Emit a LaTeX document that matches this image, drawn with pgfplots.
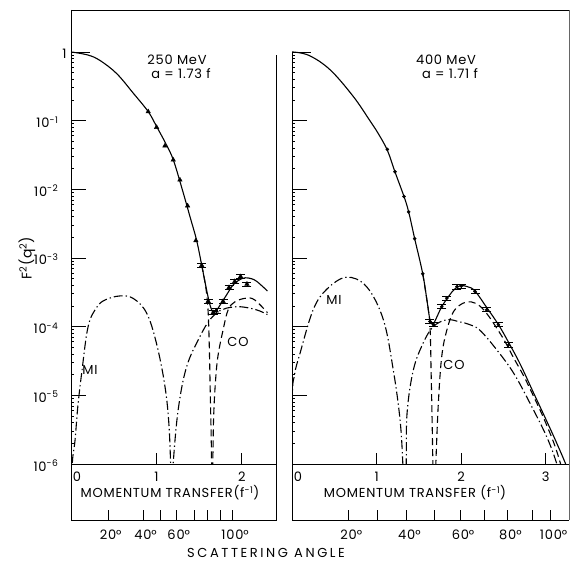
\documentclass[border=0pt]{standalone}
\usepackage{fontspec}
\setmainfont{Poppins}[LetterSpace=6]
\usepackage{pgfplots}
\pgfplotsset{compat=1.18}
\newcommand\lbl{\fontsize{13bp}{15bp}\selectfont}

\pgfplotsset{
  curve/.style={black, line width=1.1bp, smooth, tension=0.6},
  dsh/.style={curve, dash pattern=on 7bp off 4bp},
  dshdot/.style={curve, dash pattern=on 9bp off 3bp on 1.3bp off 3bp},
}

\begin{document}
\begin{tikzpicture}[x=1bp, y=1bp, font=\lbl]
\useasboundingbox (0,0) rectangle (571,563);

% ---------------- 250 MeV ----------------
\begin{axis}[scale only axis, ymode=log, ymin=1e-6, ymax=4.08, height=454bp,
  anchor=south west, xmin=0, at={(71bp,99bp)}, width=205bp, xmax=2.40,
  axis line style={draw=none}, xtick=\empty,
  ytick={1e-6,1e-5,1e-4,1e-3,1e-2,1e-1,1},
  ytick pos=left, tick align=inside, major tick length=15bp,
  ytick style={black, line width=0.8bp},
  tick label style={font=\lbl},
  yticklabels={10\textsuperscript{-6},10\textsuperscript{-5},10\textsuperscript{-4},
    10\textsuperscript{-3},10\textsuperscript{-2},10\textsuperscript{-1},1\hspace*{-8bp}},
  yticklabel style={anchor=east, xshift=-9bp, yshift=-1.5bp}]
% total
\addplot[curve] coordinates {(0,1) (0.2,0.90) (0.34,0.75) (0.534,0.485) (0.73,0.25)
  (0.904,0.135) (1.0,0.083) (1.12,0.0437) (1.2,0.0263) (1.3,0.0102) (1.4,0.00372)
  (1.47,0.00182) (1.53,7.9e-4) (1.58,3.8e-4) (1.626,2.09e-4) (1.664,1.58e-4)};
\addplot[curve] coordinates {(1.664,1.58e-4) (1.70,1.70e-4) (1.743,2.04e-4) (1.82,2.88e-4)
  (1.90,4.07e-4) (2.0,5.0e-4) (2.08,5.1e-4) (2.17,4.6e-4) (2.30,3.3e-4)};
% CO
\addplot[dsh] coordinates {(1.53,7.9e-4) (1.58,3.6e-4) (1.606,1.6e-4) (1.62,4.6e-5)
  (1.632,8.5e-6) (1.642,2.2e-6) (1.65,4e-7)};
\addplot[dsh] coordinates {(1.655,4e-7) (1.662,1.5e-6) (1.67,4.9e-6) (1.69,1.5e-5)
  (1.72,3.7e-5) (1.78,8.9e-5) (1.84,1.76e-4) (1.92,2.3e-4) (2.05,2.6e-4) (2.15,2.45e-4)
  (2.30,1.6e-4)};
% MI
\addplot[dshdot] coordinates {(0.004,2e-7) (0.015,1e-6) (0.047,2.2e-6) (0.08,6.9e-6)
  (0.125,2.1e-5) (0.2,1.0e-4) (0.30,1.9e-4) (0.40,2.45e-4) (0.573,2.8e-4) (0.73,2.57e-4)
  (0.885,1.58e-4) (1.0,5.75e-5) (1.10,1.35e-5) (1.15,3.2e-6) (1.175,4e-7)};
\addplot[dshdot] coordinates {(1.185,4e-7) (1.196,1e-6) (1.255,6.2e-6) (1.353,2.6e-5)
  (1.51,7.2e-5) (1.626,1.26e-4) (1.74,1.7e-4) (1.82,1.86e-4) (1.98,1.95e-4)
  (2.17,1.76e-4) (2.30,1.5e-4)};
% data
\addplot[only marks, black, mark=triangle*, mark size=2.6bp] coordinates {
  (0.904,0.135) (1.002,0.080) (1.099,0.0428) (1.197,0.0268) (1.275,0.0137)
  (1.365,0.00575) (1.462,0.00179)};
\addplot[only marks, black, mark=triangle*, mark size=2.6bp,
  error bars/.cd, y dir=both, y explicit,
  error bar style={line width=0.9bp},
  error mark options={black, rotate=90, mark size=4.5bp, line width=0.9bp}] coordinates {
  (1.53,7.8e-4) +- (0,0.55e-4) (1.606,2.34e-4) +- (0,0.16e-4) (1.665,1.6e-4) +- (0,0.11e-4)
  (1.70,1.7e-4) +- (0,0.12e-4) (1.78,2.34e-4) +- (0,0.16e-4) (1.85,3.72e-4) +- (0,0.26e-4)
  (1.918,4.57e-4) +- (0,0.32e-4) (1.985,5.37e-4) +- (0,0.38e-4) (2.06,4.17e-4) +- (0,0.3e-4)};
\end{axis}

% ---------------- 400 MeV ----------------
\begin{axis}[scale only axis, ymode=log, ymin=1e-6, ymax=4.08, height=454bp,
  anchor=south west, xmin=0, at={(292bp,99bp)}, width=277bp, xmax=3.2742,
  axis line style={draw=none}, xtick=\empty,
  ytick={1e-6,1e-5,1e-4,1e-3,1e-2,1e-1,1},
  ytick pos=left, tick align=inside, major tick length=15bp,
  ytick style={black, line width=0.8bp},
  tick label style={font=\lbl},
  yticklabels={}]
\addplot[curve] coordinates {(0,1) (0.2,0.89) (0.45,0.55) (0.725,0.224) (0.92,0.100)
  (1.02,0.0646) (1.127,0.037) (1.218,0.0178) (1.324,0.00783) (1.379,0.00468) (1.45,0.00191)
  (1.545,5.9e-4) (1.60,2.2e-4) (1.631,1.26e-4) (1.67,1.07e-4)};
\addplot[curve] coordinates {(1.67,1.07e-4) (1.72,1.45e-4) (1.77,1.95e-4) (1.85,2.75e-4)
  (1.92,3.5e-4) (1.99,3.95e-4) (2.08,3.8e-4) (2.163,3.3e-4) (2.30,1.91e-4) (2.44,1.07e-4)
  (2.56,5.9e-5) (2.70,2.8e-5) (2.85,1.12e-5) (3.00,4.5e-6) (3.13,2.0e-6) (3.25,8.9e-7)
  (3.28,6e-7)};
% CO
\addplot[dsh] coordinates {(1.545,5.9e-4) (1.60,2.2e-4) (1.631,1.0e-4) (1.645,2e-5)
  (1.655,5e-6) (1.665,1e-6) (1.672,3e-7)};
\addplot[dsh] coordinates {(1.688,3e-7) (1.70,1e-6) (1.73,7.8e-6) (1.77,3.7e-5)
  (1.83,8.9e-5) (1.91,1.66e-4) (2.02,2.19e-4) (2.12,2.29e-4) (2.22,2.0e-4) (2.32,1.45e-4)
  (2.42,9.5e-5) (2.52,6.0e-5) (2.62,3.5e-5) (2.74,1.9e-5) (2.85,1.0e-5) (2.97,4.8e-6)
  (3.09,2.1e-6) (3.17,1.05e-6) (3.20,7e-7)};
% MI
\addplot[dshdot] coordinates {(0.001,1e-7) (0.003,7.8e-6) (0.03,2e-5) (0.095,4.1e-5)
  (0.25,1.76e-4) (0.41,3.5e-4) (0.646,5.25e-4) (0.883,3.8e-4) (1.08,1.26e-4)
  (1.197,2.34e-5) (1.277,4.4e-6) (1.31,1e-6) (1.32,3e-7)};
\addplot[dshdot] coordinates {(1.34,3e-7) (1.35,1e-6) (1.36,5.5e-6) (1.434,2.34e-5)
  (1.55,5.75e-5) (1.67,1.0e-4) (1.83,1.26e-4) (1.986,1.17e-4) (2.10,1.07e-4)
  (2.22,8.9e-5) (2.42,4.6e-5) (2.62,2.1e-5) (2.81,7.8e-6) (3.01,2.5e-6) (3.13,1e-6)
  (3.16,6e-7)};
% data
\addplot[only marks, black, mark=*, mark size=1.6bp] coordinates {
  (1.127,0.038) (1.218,0.0180) (1.324,0.00783) (1.379,0.00468) (1.45,0.00191)
  (1.545,5.9e-4)};
\addplot[only marks, black, mark=*, mark size=1.6bp,
  error bars/.cd, y dir=both, y explicit,
  error bar style={line width=0.9bp},
  error mark options={black, rotate=90, mark size=4.5bp, line width=0.9bp}] coordinates {
  (1.631,1.19e-4) +- (0,0.08e-4) (1.67,1.07e-4) +- (0,0.07e-4) (1.77,1.95e-4) +- (0,0.14e-4)
  (1.83,2.6e-4) +- (0,0.18e-4) (1.95,3.8e-4) +- (0,0.27e-4) (2.0,3.9e-4) +- (0,0.27e-4)
  (2.163,3.24e-4) +- (0,0.23e-4) (2.30,1.76e-4) +- (0,0.12e-4) (2.44,1.07e-4) +- (0,0.075e-4)
  (2.56,5.4e-5) +- (0,0.4e-5)};
\end{axis}

% momentum-transfer and scattering-angle scales, left panel (x in f^-1)
\begin{scope}[shift={(71bp,0)}, x=85.4167bp, line width=0.8bp]
\foreach \q in {1,2} \draw (\q,99) -- (\q,110);
\node[anchor=base] at (0.07,81) {0};
\node[anchor=base] at (1,81) {1};
\node[anchor=base] at (2,81) {2};
\foreach \q in {0.433,0.842,1.05,1.23,1.44,1.60,1.75,1.89} \draw (\q,43) -- (\q,53);
\node[anchor=base] at (0.433,23) {20\rlap{°}};
\node[anchor=base] at (0.842,23) {40\rlap{°}};
\node[anchor=base] at (1.23,23) {60\rlap{°}};
\node[anchor=base] at (1.89,23) {100\rlap{°}};
\end{scope}
% right panel
\begin{scope}[shift={(292bp,0)}, x=84.6bp, line width=0.8bp]
\foreach \q in {1,2,3} \draw (\q,99) -- (\q,110);
\node[anchor=base] at (0.07,81) {0};
\node[anchor=base] at (1,81) {1};
\node[anchor=base] at (2,81) {2};
\node[anchor=base] at (3,81) {3};
\foreach \q in {0.67,1.01,1.356,1.68,1.99,2.27,2.55,2.84,3.06} \draw (\q,43) -- (\q,53);
\node[anchor=base] at (0.67,23) {20\rlap{°}};
\node[anchor=base] at (1.356,23) {40\rlap{°}};
\node[anchor=base] at (1.99,23) {60\rlap{°}};
\node[anchor=base] at (2.55,23) {80\rlap{°}};
\node[anchor=base] at (3.06,23) {100\rlap{°}};
\end{scope}

% frame
\begin{scope}[line width=0.8bp]
\draw (71,553) -- (569,553);
\draw (71,553) -- (71,43) -- (276,43) -- (276,508);
\draw (71,99) -- (276,99);
\draw (292,511) -- (292,43) -- (569,43);
\draw[black!60] (569,43) -- (569,553);
\draw (292,99) -- (569,99);
\draw (71,511) -- (90,511);
\draw (292,511) -- (311,511);
\end{scope}

% texts
\node at (177,503) {250 MeV};
\node at (181,489) {a = 1.73 f};
\node at (446,503) {400 MeV};
\node at (450,489) {a = 1.71 f};
\node[rotate=90, font=\fontsize{14bp}{16bp}\selectfont] at (27,305) {F\textsuperscript{2}(q\textsuperscript{2})};
\node at (90,193) {MI};
\node at (238,221) {CO};
\node at (334,263) {MI};
\node at (454,198) {CO};
\node at (170,70) {MOMENTUM TRANSFER(f\textsuperscript{-1})};
\node at (415,70) {MOMENTUM TRANSFER (f\textsuperscript{-1})};
\node at (266,10) {\addfontfeature{LetterSpace=20}SCATTERING ANGLE};
\end{tikzpicture}
\end{document}
